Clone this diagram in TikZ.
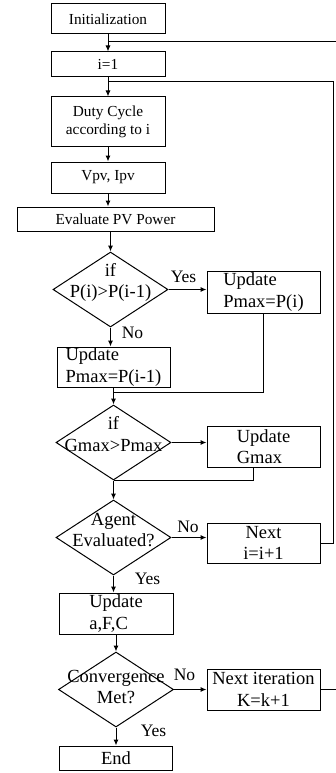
\documentclass[tikz,border=0pt]{standalone}
\usepackage{fontspec}
\setmainfont{Liberation Serif}
\usepackage{tikz}
\usetikzlibrary{arrows.meta, shapes.geometric}

\begin{document}
\begin{tikzpicture}[x=1pt, y=-1pt, line width=1pt,
  every node/.style={font=\fontsize{18.5}{21.5}\selectfont, inner sep=0pt},
  sm/.style={font=\fontsize{15.3}{18}\selectfont},
  block/.style={draw, rectangle, minimum width=113, align=center},
  upd/.style={block, align=left},
  decide/.style={draw, diamond, minimum width=115, minimum height=75},
  dtext/.style={align=center},
  lbl/.style={font=\fontsize{17.5}{20}\selectfont},
  arr/.style={-{Latex[length=6pt,width=5pt]}}]
  \useasboundingbox (0,0) rectangle (336,773);

  % left column
  \node[block, sm, minimum width=114, minimum height=30] (init) at (108,19) {Initialization};
  \node[block, sm, minimum width=114, minimum height=25] (ione) at (108,64.5) {i=1};
  \node[block, sm, minimum width=114, minimum height=49] (duty) at (108,121.5) {Duty Cycle\\according to i};
  \node[block, sm, minimum width=114, minimum height=31] (vpv) at (108,177.5) {Vpv, Ipv};
  \node[block, sm, minimum width=197, minimum height=24] (evalpv) at (115.5,219) {Evaluate PV Power};
  \node[decide] (ifp) at (110.5,289.5) {};
  \node[dtext] (ifptext) at (110.5,282.5) {if\\P(i)>P(i-1)};
  \node[upd, minimum height=40] (updpp) at (113.5,367) {Update\\Pmax=P(i-1)};
  \node[decide] (ifg) at (113.5,442.5) {};
  \node[dtext] (ifgtext) at (113.5,434) {if\\Gmax>Pmax};
  \node[decide] (agent) at (113.5,537.5) {};
  \node[dtext] (agenttext) at (113.5,530) {Agent\\Evaluated?};
  \node[upd, minimum width=114, minimum height=41] (updafc) at (116,613.5) {Update\\a,F,C};
  \node[decide] (conv) at (116,689.5) {};
  \node[dtext] (convtext) at (116,687) {Convergence\\Met?};
  \node[block, minimum height=24] (stopbox) at (116,758) {End};

  % right column
  \node[upd, minimum height=42] (updp) at (263.5,292) {Update\\Pmax=P(i)};
  \node[upd, minimum height=41] (updg) at (263.5,446.5) {Update\\Gmax};
  \node[block, minimum height=40] (nexti) at (263.5,543) {Next\\i=i+1};
  \node[block, minimum height=41] (nextk) at (263.5,689.5) {Next iteration\\K=k+1};

  % branch labels
  \node[lbl] (yes1) at (183.5,277) {Yes};
  \node[lbl] (no1) at (132.5,333) {No};
  \node[lbl] (no3) at (188,527) {No};
  \node[lbl] (yes3) at (147.5,579) {Yes};
  \node[lbl] (no4) at (184.5,675) {No};
  \node[lbl] (yes4) at (153.5,731) {Yes};

  % joints of the loops
  \coordinate (jn0) at (108,42);
  \coordinate (jn1) at (108,82);
  \coordinate (loopk) at (340,42);
  \coordinate (loopi) at (333,82);
  \coordinate (mrg1) at (113.5,392);

  % connectors
  \draw[arr] (init) -- (ione);
  \draw[arr] (ione) -- (duty);
  \draw[arr] (duty) -- (vpv);
  \draw[arr] (vpv.south) -- (vpv.south |- evalpv.north);
  \draw[arr] (ifp.north |- evalpv.south) -- (ifp);
  \draw[arr] (ifp) -- (ifp -| updp.west);
  \draw[arr] (ifp) -- (ifp |- updpp.north);
  \draw (updp) |- (mrg1);
  \draw[arr] (updpp) -- (ifg);
  \draw[arr] (ifg) -- (ifg -| updg.west);
  \draw ([xshift=-10]updg.south) |- (ifg.south);
  \draw[arr] (ifg) -- (agent);
  \draw[arr] (agent) -- (agent -| nexti.west);
  \draw (nexti) -| (loopi) -- (jn1);
  \draw[arr] (agent) -- (agent |- updafc.north);
  \draw[arr] (updafc) -- (conv);
  \draw[arr] (conv) -- (conv -| nextk.west);
  \draw (nextk) -| (loopk) -- (jn0);
  \draw[arr] (conv) -- (stopbox);
\end{tikzpicture}
\end{document}
